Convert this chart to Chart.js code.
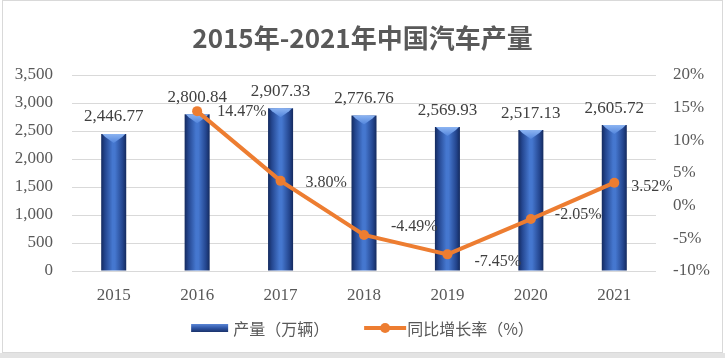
<!DOCTYPE html>
<html>
<head>
<meta charset="utf-8">
<script src="https://cdn.jsdelivr.net/npm/chart.js@4.4.1/dist/chart.umd.min.js"></script>
<style>
html,body{margin:0;padding:0;background:#fff;}
#c{display:block;}
</style>
</head>
<body>
<canvas id="c" width="725" height="358"></canvas>
<script>
const chartTitle = '2015年-2021年中国汽车产量';
const categories = ['2015', '2016', '2017', '2018', '2019', '2020', '2021'];
const productionLabel = '产量（万辆）';
const productionValues = [2446.77, 2800.84, 2907.33, 2776.76, 2569.93, 2517.13, 2605.72];
const growthLabel = '同比增长率（%）';
const growthValues = [null, 14.47, 3.80, -4.49, -7.45, -2.05, 3.52];
const leftTicks = [0, 500, 1000, 1500, 2000, 2500, 3000, 3500];
const rightTicks = [-10, -5, 0, 5, 10, 15, 20];

// label nudges (styling only): [dx to text left, dy to text centre] relative to each point
const pctLabelNudges = [null, [20, 1], [25, 2], [27, -8], [27, 7], [24, -4], [17, 4]];

const SERIF = "'Liberation Serif', 'Times New Roman', serif";
const CJK = "'Noto Sans CJK SC', 'Noto Sans', sans-serif";
const TEXT = '#595959';
const ORANGE = '#ed7d31';

function barGradient(ctx) {
  const chart = ctx.chart;
  const area = chart.chartArea;
  if (!area || ctx.dataIndex === undefined) return '#2f56a6';
  const xs = chart.scales.x;
  const cx = xs.getPixelForValue(ctx.dataIndex);
  const w = (area.right - area.left) / categories.length * 0.3;
  const g = chart.ctx.createLinearGradient(cx - w / 2, 0, cx + w / 2, 0);
  g.addColorStop(0, '#142a5e');
  g.addColorStop(0.15, '#24468f');
  g.addColorStop(0.45, '#4577cf');
  g.addColorStop(0.55, '#4577cf');
  g.addColorStop(0.85, '#24468f');
  g.addColorStop(1, '#142a5e');
  return g;
}

const decor = {
  id: 'decor',
  beforeDraw(chart) {
    const c = chart.ctx;
    c.save();
    c.fillStyle = '#ffffff';
    c.fillRect(0, 0, chart.width, chart.height);
    c.fillStyle = '#e3e3e3';
    c.fillRect(0, 353, chart.width, chart.height - 353);
    c.strokeStyle = '#d9d9d9';
    c.lineWidth = 1;
    c.strokeRect(2.5, 0.5, chart.width - 5, 352);
    // title
    c.fillStyle = TEXT;
    c.font = 'bold 26px ' + CJK;
    c.textAlign = 'center';
    c.textBaseline = 'middle';
    c.fillText(chartTitle, chart.width / 2, 38);
    c.restore();
  },
  afterDatasetDraw(chart, args) {
    const c = chart.ctx;
    if (args.index === 0) {
      const meta = chart.getDatasetMeta(0);
      meta.data.forEach((bar) => {
        const w = bar.width, x = bar.x, y = bar.y;
        const l = x - w / 2, r = x + w / 2;
        c.save();
        const g = c.createLinearGradient(0, y, 0, y + 9);
        g.addColorStop(0, '#8cb4f2');
        g.addColorStop(1, '#5285dc');
        c.fillStyle = g;
        c.beginPath();
        c.moveTo(l + 1, y);
        c.lineTo(r - 1, y);
        c.lineTo(r - 4, y + 3);
        c.lineTo(x, y + 9);
        c.lineTo(l + 4, y + 3);
        c.closePath();
        c.fill();
        c.restore();
      });
    }
  },
  afterDraw(chart) {
    const c = chart.ctx;
    c.save();
    // bar value labels
    const bm = chart.getDatasetMeta(0);
    c.fillStyle = '#404040';
    c.font = '17px ' + SERIF;
    c.textAlign = 'center';
    c.textBaseline = 'middle';
    bm.data.forEach((bar, i) => {
      const v = productionValues[i];
      c.fillText(v.toLocaleString('en-US', {minimumFractionDigits: 2, maximumFractionDigits: 2}), bar.x, bar.y - 17);
    });
    // percentage labels
    const lm = chart.getDatasetMeta(1);
    c.font = '16px ' + SERIF;
    c.textAlign = 'left';
    lm.data.forEach((pt, i) => {
      const v = growthValues[i];
      if (v === null || !pctLabelNudges[i]) return;
      const [dx, dy] = pctLabelNudges[i];
      c.fillText(v.toFixed(2) + '%', pt.x + dx, pt.y + dy);
    });
    // legend
    const ly = 328;
    c.font = '16px ' + CJK;
    c.textBaseline = 'middle';
    const t1w = c.measureText(productionLabel).width;
    const t2w = c.measureText(growthLabel).width;
    const total = 37 + 5 + t1w + 35 + 42 + 1 + t2w;
    let x0 = chart.width / 2 - total / 2;
    const sg = c.createLinearGradient(0, ly - 4, 0, ly + 4);
    sg.addColorStop(0, '#5b86d6');
    sg.addColorStop(0.5, '#2f56a6');
    sg.addColorStop(1, '#1a326b');
    c.fillStyle = sg;
    c.fillRect(x0, ly - 4, 37, 8);
    c.fillStyle = TEXT;
    c.fillText(productionLabel, x0 + 42, ly + 1);
    let x1 = x0 + 42 + t1w + 35;
    c.strokeStyle = ORANGE;
    c.lineWidth = 4;
    c.beginPath();
    c.moveTo(x1, ly);
    c.lineTo(x1 + 42, ly);
    c.stroke();
    c.fillStyle = ORANGE;
    c.beginPath();
    c.arc(x1 + 21, ly, 5, 0, Math.PI * 2);
    c.fill();
    c.fillStyle = TEXT;
    c.fillText(growthLabel, x1 + 43, ly + 1);
    c.restore();
  }
};

new Chart(document.getElementById('c'), {
  data: {
    labels: categories,
    datasets: [
      {
        type: 'bar',
        label: productionLabel,
        data: productionValues,
        yAxisID: 'y',
        backgroundColor: barGradient,
        borderWidth: 0,
        categoryPercentage: 1,
        barPercentage: 0.3,
        order: 2
      },
      {
        type: 'line',
        label: growthLabel,
        data: growthValues,
        yAxisID: 'y1',
        borderColor: ORANGE,
        backgroundColor: ORANGE,
        borderWidth: 4,
        pointRadius: 5,
        pointBorderWidth: 0,
        pointBackgroundColor: ORANGE,
        tension: 0,
        spanGaps: false,
        order: 1
      }
    ]
  },
  options: {
    responsive: false,
    animation: false,
    devicePixelRatio: 1,
    layout: { padding: { top: 75, left: 0, right: 0, bottom: 0 } },
    plugins: {
      legend: { display: false },
      title: { display: false },
      tooltip: { enabled: false }
    },
    scales: {
      x: {
        grid: { display: false, drawTicks: false },
        border: { display: false },
        ticks: { color: TEXT, font: { family: SERIF, size: 17 }, padding: 14, maxRotation: 0 },
        afterFit(s) { s.height = 87; }
      },
      y: {
        position: 'left',
        min: leftTicks[0],
        max: leftTicks[leftTicks.length - 1],
        afterBuildTicks(s) { s.ticks = leftTicks.map(v => ({ value: v })); },
        grid: { color: '#d9d9d9', lineWidth: 1, drawTicks: false },
        border: { display: false },
        ticks: {
          color: TEXT,
          font: { family: SERIF, size: 17 },
          padding: 19,
          callback: (v) => Number(v).toLocaleString('en-US')
        },
        afterFit(s) { s.width = 72; }
      },
      y1: {
        position: 'right',
        min: rightTicks[0],
        max: rightTicks[rightTicks.length - 1],
        afterBuildTicks(s) { s.ticks = rightTicks.map(v => ({ value: v })); },
        grid: { display: false, drawTicks: false },
        border: { display: false },
        ticks: {
          color: TEXT,
          font: { family: SERIF, size: 17 },
          padding: 17,
          callback: (v) => v + '%'
        },
        afterFit(s) { s.width = 69; }
      }
    }
  },
  plugins: [decor]
});
</script>
</body>
</html>
